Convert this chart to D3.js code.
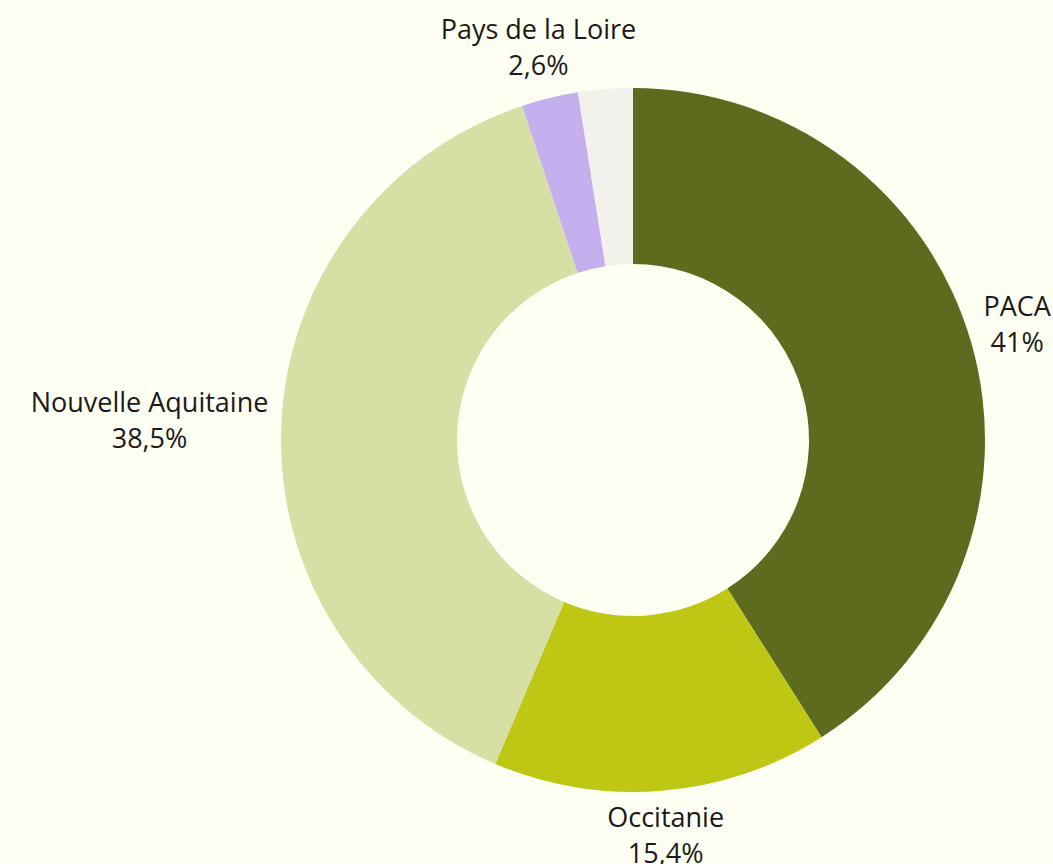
<!DOCTYPE html>
<html>
<head>
<meta charset="utf-8">
<script src="https://cdn.jsdelivr.net/npm/d3@7"></script>
<style>
  html, body { margin: 0; padding: 0; background: #fefef3; }
  svg { display: block; }
  text { font-family: "Open Sans", "Noto Sans", sans-serif; font-size: 27px; fill: #1a1a1a; }
</style>
</head>
<body>
<svg id="chart"></svg>
<script>
// data
const regions = ['PACA', 'Occitanie', 'Nouvelle Aquitaine', 'Pays de la Loire', '']
const shares = [41, 15.4, 38.5, 2.6, 2.5]
const shareLabels = ['41%', '15,4%', '38,5%', '2,6%', '']
const colors = ['#5c6b1e', '#bdc714', '#d6e0a4', '#c4b0ee', '#f2f1ec']

const width = 1053
const height = 864
const cx = 633
const cy = 440
const outerR = 352
const innerR = 176
const labelR = 400
const labelGap = 13
const lineGap = 36

const svg = d3.select('#chart')
    .attr('width', width)
    .attr('height', height)

const g = svg.append('g')
    .attr('transform', `translate(${cx}, ${cy})`)

const pie = d3.pie()
    .sort(null)
    .value(i => shares[i])

const arcs = pie(d3.range(shares.length))

const arc = d3.arc()
    .innerRadius(innerR)
    .outerRadius(outerR)

g.selectAll('path.slice')
    .data(arcs)
    .join('path')
    .attr('class', 'slice')
    .attr('d', arc)
    .attr('fill', d => colors[d.data])

// labels
const labelG = g.selectAll('g.label')
    .data(arcs.filter(d => regions[d.data] !== ''))
    .join('g')
    .attr('class', 'label')

labelG.each(function (d) {
    const sel = d3.select(this)
    const mid = (d.startAngle + d.endAngle) / 2
    let x = Math.sin(mid) * labelR
    const y = -Math.cos(mid) * labelR

    const t1 = sel.append('text')
        .attr('text-anchor', 'middle')
        .attr('y', -lineGap / 2 + 6)
        .text(regions[d.data])
    const t2 = sel.append('text')
        .attr('text-anchor', 'middle')
        .attr('y', lineGap / 2 + 6)
        .text(shareLabels[d.data])

    // side labels: push outward so the text clears the ring
    if (Math.abs(x) > Math.abs(y)) {
        const halfW = Math.max(t1.node().getComputedTextLength(), t2.node().getComputedTextLength()) / 2
        const need = outerR + labelGap
        const minX = Math.sqrt(Math.max(0, need * need - y * y))
        if (Math.abs(x) - halfW < minX) {
            x = Math.sign(x) * (minX + halfW)
        }
    }
    sel.attr('transform', `translate(${x}, ${y})`)
})
</script>
</body>
</html>
